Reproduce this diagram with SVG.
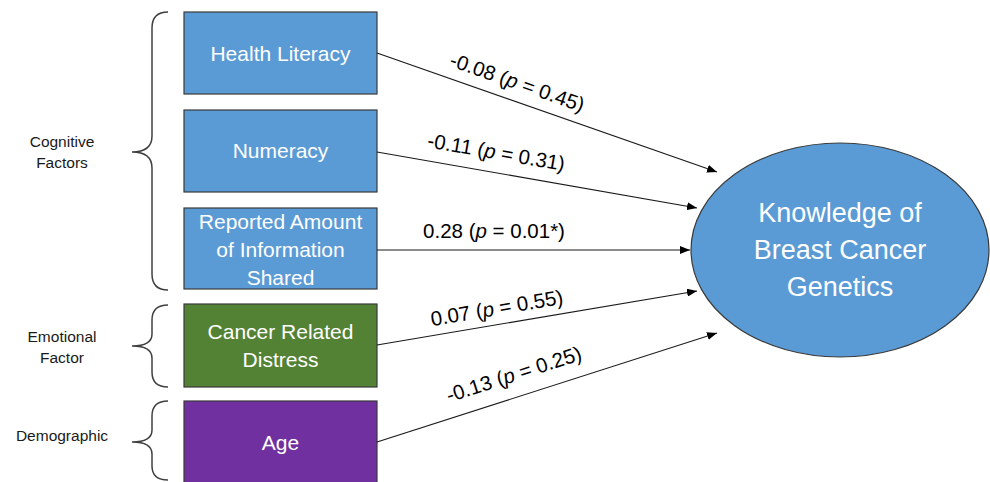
<svg xmlns="http://www.w3.org/2000/svg" width="990" height="482" viewBox="0 0 990 482">
  <style>
    .box { stroke: #3a3a3a; stroke-width: 1.2; }
    .blue { fill: #5b9bd5; }
    .green { fill: #548235; }
    .purple { fill: #7030a0; }
    .btxt { font-family: "Liberation Sans", Arial, sans-serif; font-size: 21px; fill: #ffffff; text-anchor: middle; }
    .etxt { font-family: "Liberation Sans", Arial, sans-serif; font-size: 27px; fill: #ffffff; text-anchor: middle; }
    .grp { font-family: "Liberation Sans", Arial, sans-serif; font-size: 15.5px; fill: #1a1a1a; text-anchor: middle; }
    .lbl { font-family: "Liberation Sans", Arial, sans-serif; font-size: 20.5px; fill: #000000; text-anchor: middle; }
    .edge { stroke: #1a1a1a; stroke-width: 1.1; fill: none; marker-end: url(#arrow); }
    .brace { stroke: #404040; stroke-width: 1.5; fill: none; }
  </style>
  <defs>
    <marker id="arrow" viewBox="0 0 10 8" refX="10" refY="4" markerWidth="10" markerHeight="8" markerUnits="userSpaceOnUse" orient="auto">
      <path d="M0,0 L10,4 L0,8 Z" fill="#000000"/>
    </marker>
  </defs>

  <rect width="990" height="482" fill="#ffffff"/>

  <!-- group braces and their captions -->
  <g id="group-cognitive">
    <path class="brace" d="M168,12 Q152,12 152,28 L152,136 Q152,152 132,152 Q152,152 152,168 L152,274 Q152,290 168,290"/>
    <text class="grp" x="62" y="147">Cognitive</text>
    <text class="grp" x="62" y="168">Factors</text>
  </g>
  <g id="group-emotional">
    <path class="brace" d="M168,305 Q152,305 152,320 L152,334 Q152,346 132,346 Q152,346 152,358 L152,372 Q152,387 168,387"/>
    <text class="grp" x="62" y="342">Emotional</text>
    <text class="grp" x="62" y="363">Factor</text>
  </g>
  <g id="group-demographic">
    <path class="brace" d="M168,401 Q152,401 152,416 L152,430 Q152,442 132,442 Q152,442 152,454 L152,466 Q152,480 168,480"/>
    <text class="grp" x="62" y="441">Demographic</text>
  </g>

  <!-- predictor nodes -->
  <g id="node-health-literacy">
    <rect class="box blue" x="184" y="12" width="193" height="82"/>
    <text class="btxt" x="280.5" y="61">Health Literacy</text>
  </g>
  <g id="node-numeracy">
    <rect class="box blue" x="184" y="110" width="193" height="82"/>
    <text class="btxt" x="280.5" y="158">Numeracy</text>
  </g>
  <g id="node-information-shared">
    <rect class="box blue" x="184" y="208" width="193" height="81"/>
    <text class="btxt" x="280.5" y="229">Reported Amount</text>
    <text class="btxt" x="280.5" y="257">of Information</text>
    <text class="btxt" x="280.5" y="285">Shared</text>
  </g>
  <g id="node-distress">
    <rect class="box green" x="184" y="304" width="193" height="83"/>
    <text class="btxt" x="280.5" y="339">Cancer Related</text>
    <text class="btxt" x="280.5" y="367">Distress</text>
  </g>
  <g id="node-age">
    <rect class="box purple" x="184" y="401" width="193" height="86"/>
    <text class="btxt" x="280.5" y="450">Age</text>
  </g>

  <!-- outcome node -->
  <g id="node-knowledge">
    <ellipse cx="840" cy="250" rx="149" ry="107" fill="#5b9bd5" stroke="#3a3a3a" stroke-width="1.2"/>
    <text class="etxt" x="840" y="222">Knowledge of</text>
    <text class="etxt" x="840" y="259">Breast Cancer</text>
    <text class="etxt" x="840" y="296">Genetics</text>
  </g>

  <!-- paths with coefficients -->
  <g id="connectors">
    <line class="edge" x1="377" y1="53" x2="717" y2="172"/>
    <line class="edge" x1="377" y1="152" x2="697" y2="208"/>
    <line class="edge" x1="377" y1="250" x2="690" y2="250"/>
    <line class="edge" x1="377" y1="345" x2="697" y2="291"/>
    <line class="edge" x1="377" y1="442" x2="717" y2="333"/>

    <text class="lbl" transform="translate(515,89) rotate(19.3)">-0.08 (<tspan font-style="italic">p</tspan> = 0.45)</text>
    <text class="lbl" transform="translate(495,159) rotate(9.9)">-0.11 (<tspan font-style="italic">p</tspan> = 0.31)</text>
    <text class="lbl" transform="translate(494,238)">0.28 (<tspan font-style="italic">p</tspan> = 0.01*)</text>
    <text class="lbl" transform="translate(498,315) rotate(-9.6)">0.07 (<tspan font-style="italic">p</tspan> = 0.55)</text>
    <text class="lbl" transform="translate(516,381) rotate(-17.8)">-0.13 (<tspan font-style="italic">p</tspan> = 0.25)</text>
  </g>
</svg>
